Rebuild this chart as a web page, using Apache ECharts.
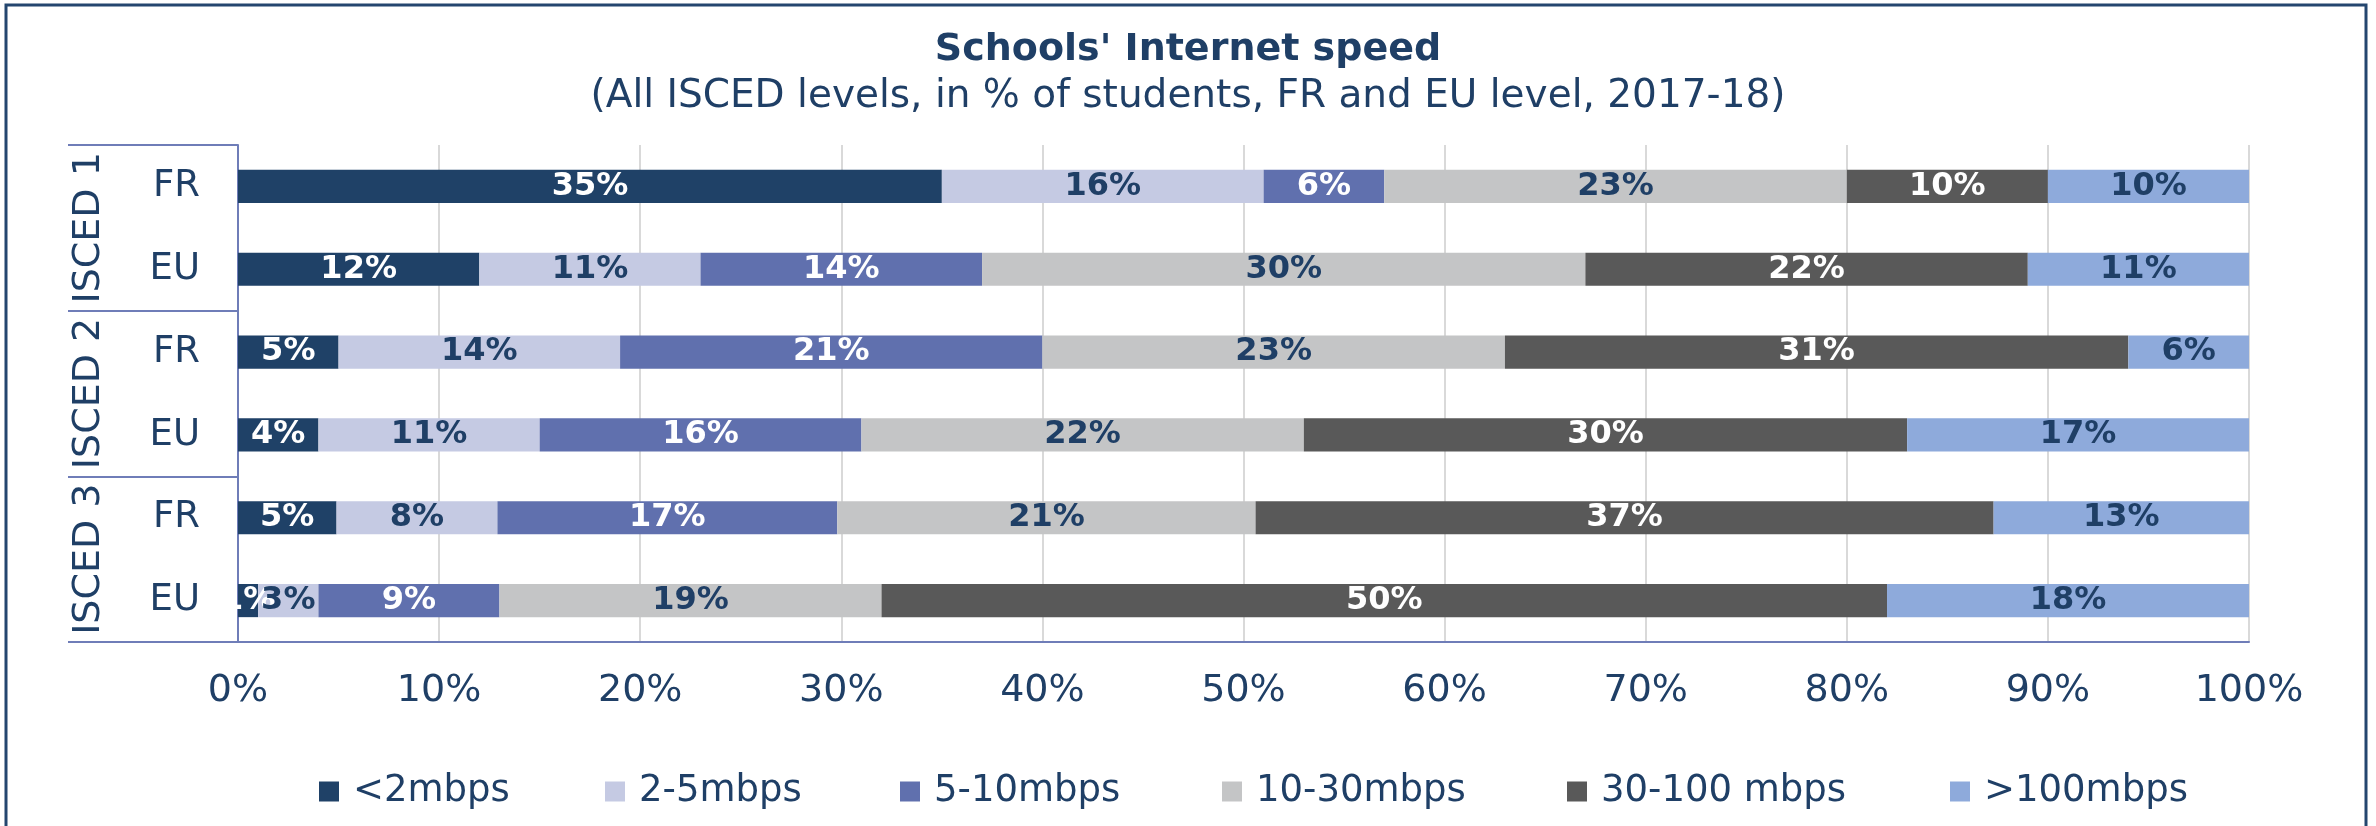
<!DOCTYPE html>
<html>
<head>
<meta charset="utf-8">
<script src="https://cdn.jsdelivr.net/npm/echarts@6/dist/echarts.min.js"></script>
<style>
  html, body { margin: 0; padding: 0; background: #fff; }
  #chart { width: 2376px; height: 826px; }
</style>
</head>
<body>
<div id="chart"></div>
<script>
// rows, top to bottom
var rowLabels = ['FR', 'EU', 'FR', 'EU', 'FR', 'EU'];
var levelLabels = ['ISCED 1', 'ISCED 2', 'ISCED 3'];
var bandNames = ['<2mbps', '2-5mbps', '5-10mbps', '10-30mbps', '30-100 mbps', '>100mbps'];
var xTicks = [0, 10, 20, 30, 40, 50, 60, 70, 80, 90, 100];

// % of students per speed band, one value per row
var below2 = [35, 12, 5, 4, 4.9, 1];
var from2to5 = [16, 11, 14, 11, 8.0, 3];
var from5to10 = [6, 14, 21, 16, 16.9, 9];
var from10to30 = [23, 30, 23, 22, 20.8, 19];
var from30to100 = [10, 22, 31, 30, 36.7, 50];
var above100 = [10, 11, 6, 17, 12.7, 18];

var navy = '#1f3f66';
var axisBlue = '#6f7db8';
var font = 'DejaVu Sans';

var bandColors = ['#1f4167', '#c5cae3', '#6070ae', '#c4c5c6', '#595959', '#8eaadb'];
var labelColors = ['#ffffff', navy, '#ffffff', navy, '#ffffff', navy];
var bandValues = [below2, from2to5, from5to10, from10to30, from30to100, above100];
// left edge of each legend entry
var legendLefts = [314, 600, 895, 1217, 1562, 1945];

var myChart = echarts.init(document.getElementById('chart'));

var series = [];
var legends = [];
for (var i = 0; i < bandNames.length; i++) {
    series.push({
        name: bandNames[i],
        type: 'bar',
        stack: 'total',
        yAxisIndex: 0,
        barWidth: '40%',
        itemStyle: {color: bandColors[i]},
        label: {
            show: true,
            position: 'inside',
            color: labelColors[i],
            fontFamily: font,
            fontWeight: 'bold',
            fontSize: 32,
            formatter: function (p) { return Math.round(p.value) + '%'; }
        },
        data: bandValues[i]
    });
    legends.push({
        data: [bandNames[i]],
        left: legendLefts[i],
        top: 768,
        icon: 'rect',
        itemWidth: 20,
        itemHeight: 20,
        textStyle: {color: navy, fontFamily: font, fontSize: 37, padding: [0, 0, 0, 9]}
    });
}

var option = {
    animation: false,
    backgroundColor: '#ffffff',
    title: [{
        text: "Schools' Internet speed",
        left: 'center',
        top: 26,
        textStyle: {color: navy, fontFamily: font, fontWeight: 'bold', fontSize: 38}
    }, {
        text: '(All ISCED levels, in % of students, FR and EU level, 2017-18)',
        left: 'center',
        top: 72,
        textStyle: {color: navy, fontFamily: font, fontWeight: 'normal', fontSize: 39}
    }],
    legend: legends,
    grid: {left: 238, right: 127, top: 145, bottom: 184},
    xAxis: {
        type: 'value',
        min: xTicks[0],
        max: xTicks[xTicks.length - 1],
        interval: 10,
        axisLine: {show: true, lineStyle: {color: axisBlue, width: 2}},
        axisTick: {show: false},
        splitLine: {show: true, lineStyle: {color: '#d9d9d9', width: 2}},
        axisLabel: {
            color: navy, fontFamily: font, fontSize: 38, margin: 30,
            formatter: '{value}%'
        }
    },
    yAxis: [{
        type: 'category',
        data: rowLabels,
        inverse: true,
        axisLine: {show: true, lineStyle: {color: axisBlue, width: 2}},
        axisTick: {show: false},
        axisLabel: {color: navy, fontFamily: font, fontSize: 37, margin: 38, interval: 0}
    }, {
        type: 'category',
        data: levelLabels,
        inverse: true,
        position: 'left',
        axisLine: {show: false},
        axisTick: {show: true, interval: 0, length: 170, lineStyle: {color: axisBlue, width: 2}},
        axisLabel: {color: navy, fontFamily: font, fontSize: 38, rotate: 90, margin: 130, interval: 0, hideOverlap: false}
    }],
    graphic: [{
        type: 'rect',
        shape: {x: 6, y: 5, width: 2360, height: 840},
        style: {fill: null, stroke: '#24466f', lineWidth: 3},
        silent: true
    }],
    series: series
};

myChart.setOption(option);
</script>
</body>
</html>
